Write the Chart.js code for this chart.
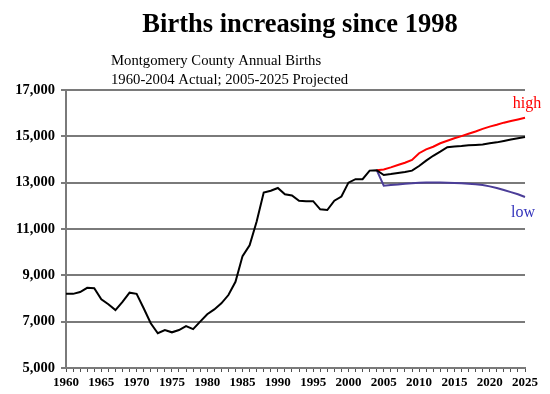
<!DOCTYPE html>
<html>
<head>
<meta charset="utf-8">
<title>Births increasing since 1998</title>
<script src="https://cdn.jsdelivr.net/npm/chart.js@4/dist/chart.umd.min.js"></script>
<style>
  html, body { margin: 0; padding: 0; background: #fff; }
  #wrap { width: 550px; height: 394px; }
</style>
</head>
<body>
<div id="wrap"><canvas id="births-chart"></canvas></div>
<script>
    "use strict";

    // Years on the x axis, 1960-2025
    var years = [];
    for (var yr = 1960; yr <= 2025; yr++) years.push(yr);

    // Actual births 1960-2004
    var actualBirths = [
        8200, 8200, 8280, 8460, 8440, 7970, 7750, 7500, 7850, 8250,
        8200, 7580, 6930, 6500, 6640, 6540, 6640, 6810, 6680, 7000,
        7320, 7530, 7790, 8150, 8720, 9830, 10300, 11320, 12570, 12650,
        12770, 12500, 12450, 12220, 12200, 12200, 11850, 11820, 12220, 12400,
        13000, 13150, 13150, 13520, 13540
    ];

    // Projections 2004-2025 (start from the 2004 actual)
    var midProjection = [
        13540, 13330, 13370, 13420, 13460, 13520, 13720, 13950, 14160, 14340,
        14530, 14560, 14580, 14610, 14630, 14650, 14700, 14740, 14800, 14860,
        14920, 14970
    ];
    var highProjection = [
        13540, 13570, 13660, 13760, 13860, 13980, 14270, 14440, 14550, 14700,
        14810, 14920, 15010, 15110, 15210, 15320, 15420, 15500, 15590, 15660,
        15730, 15800
    ];
    var lowProjection = [
        13540, 12870, 12900, 12920, 12950, 12970, 13000, 13010, 13010, 13010,
        13000, 12990, 12970, 12950, 12930, 12900, 12840, 12770, 12680, 12590,
        12500, 12380
    ];

    var yTicks = [5000, 7000, 9000, 11000, 13000, 15000, 17000];

    // pad a series out to the full year range
    function place(values, startYear) {
        return years.map(function (y) {
            var i = y - startYear;
            return (i >= 0 && i < values.length) ? values[i] : null;
        });
    }

    var blackLine = actualBirths.concat(midProjection.slice(1));

    var serif = "'Liberation Serif', 'Times New Roman', serif";

    // Title, subtitle and the high / low line tags
    var textPlugin = {
        id: "chartText",
        afterDraw: function (chart) {
            var ctx = chart.ctx;
            var ys = chart.scales.y;
            var xs = chart.scales.x;
            ctx.save();
            ctx.fillStyle = "#000";
            ctx.textBaseline = "alphabetic";
            ctx.textAlign = "center";
            ctx.font = "bold 26.5px " + serif;
            ctx.fillText("Births increasing since 1998", 300, 32);

            ctx.textAlign = "left";
            ctx.font = "14.7px " + serif;
            ctx.fillText("Montgomery County Annual Births", 111, 65);
            ctx.fillText("1960-2004 Actual; 2005-2025 Projected", 111, 84);

            var last = years.length - 1;
            var xEnd = xs.getPixelForValue(last);
            ctx.textAlign = "center";
            ctx.font = "16px " + serif;
            ctx.fillStyle = "#ff0000";
            ctx.fillText("high", xEnd + 2, ys.getPixelForValue(highProjection[highProjection.length - 1]) - 10);
            ctx.fillStyle = "#3333bb";
            ctx.fillText("low", xEnd - 2, ys.getPixelForValue(lowProjection[lowProjection.length - 1]) + 20);
            ctx.restore();
        }
    };

    var ctx1 = document.getElementById("births-chart").getContext("2d");
    var myChart1 = new Chart(ctx1, {
        type: "line",
        data: {
            labels: years,
            datasets: [{
                    label: "Actual / middle",
                    data: blackLine,
                    borderColor: "#000000",
                    borderWidth: 2,
                    pointRadius: 0,
                    tension: 0
                },
                {
                    label: "High",
                    data: place(highProjection, 2004),
                    borderColor: "#ff0000",
                    borderWidth: 2,
                    pointRadius: 0,
                    tension: 0
                },
                {
                    label: "Low",
                    data: place(lowProjection, 2004),
                    borderColor: "#4b3d98",
                    borderWidth: 2,
                    pointRadius: 0,
                    tension: 0
                }
            ]
        },
        options: {
            responsive: true,
            maintainAspectRatio: false,
            animation: false,
            layout: {
                padding: { top: 90, right: 25, left: 0, bottom: 0 }
            },
            plugins: {
                legend: { display: false },
                title: { display: false },
                tooltip: { enabled: false }
            },
            scales: {
                x: {
                    type: "category",
                    offset: false,
                    grid: {
                        drawOnChartArea: false,
                        drawTicks: true,
                        tickLength: 4,
                        tickColor: "#505050",
                        tickWidth: 1
                    },
                    border: { display: true, color: "#7a7a7a", width: 2 },
                    ticks: {
                        autoSkip: false,
                        maxRotation: 0,
                        padding: 3,
                        color: "#000",
                        font: { family: serif, size: 13, weight: "bold" },
                        callback: function (val, i) {
                            var y = years[i];
                            return y % 5 === 0 ? String(y) : "";
                        }
                    },
                    afterFit: function (scale) { scale.height = 26; }
                },
                y: {
                    min: 5000,
                    max: 17000,
                    afterBuildTicks: function (scale) {
                        scale.ticks = yTicks.map(function (v) { return { value: v }; });
                    },
                    grid: {
                        color: "#7a7a7a",
                        lineWidth: 2,
                        tickLength: 5
                    },
                    border: { display: true, color: "#7a7a7a", width: 2 },
                    ticks: {
                        padding: 6,
                        color: "#000",
                        font: { family: serif, size: 14.5, weight: "bold" },
                        callback: function (v) { return v.toLocaleString("en-US"); }
                    },
                    afterFit: function (scale) { scale.width = 66; }
                }
            }
        },
        plugins: [textPlugin]
    });
</script>
</body>
</html>
